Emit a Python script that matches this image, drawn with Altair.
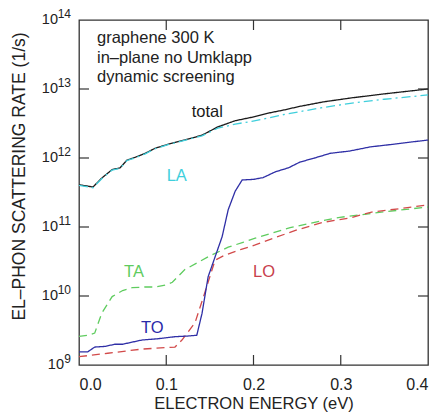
import altair as alt
import pandas as pd

FONT = "Liberation Sans"

# ---- data ----
total_E = [0.0, 0.016, 0.026, 0.038, 0.047, 0.055, 0.064, 0.076, 0.087, 0.102, 0.121, 0.141,
           0.159, 0.179, 0.198, 0.217, 0.236, 0.253, 0.28, 0.311, 0.35, 0.4]
total_rate = [4.1e11, 3.8e11, 5.1e11, 6.8e11, 7.2e11, 9.3e11, 1.02e12, 1.17e12, 1.38e12, 1.58e12,
              1.82e12, 2.14e12, 2.82e12, 3.47e12, 3.89e12, 4.47e12, 5.0e12, 5.6e12, 6.5e12,
              7.4e12, 8.5e12, 1.0e13]

la_E = total_E
la_rate = [4.0e11, 3.7e11, 5.0e11, 6.7e11, 7.1e11, 9.2e11, 1.0e12, 1.15e12, 1.36e12, 1.56e12,
           1.8e12, 2.1e12, 2.7e12, 3.1e12, 3.4e12, 3.8e12, 4.3e12, 4.7e12, 5.4e12, 6.2e12,
           7.1e12, 8.2e12]

to_E = [0.0, 0.01, 0.018, 0.03, 0.041, 0.05, 0.072, 0.09, 0.11, 0.125, 0.135, 0.141, 0.148,
        0.156, 0.164, 0.171, 0.179, 0.187, 0.2, 0.211, 0.225, 0.24, 0.253, 0.27, 0.288, 0.31,
        0.334, 0.36, 0.38, 0.4]
to_rate = [1.55e9, 1.55e9, 1.82e9, 1.86e9, 2.0e9, 2.0e9, 2.3e9, 2.4e9, 2.57e9, 2.63e9, 2.7e9,
           5.6e9, 1.9e10, 3.7e10, 7.2e10, 1.78e11, 3.3e11, 4.8e11, 4.9e11, 5.2e11, 6.3e11,
           7.2e11, 8.7e11, 1.0e12, 1.17e12, 1.26e12, 1.45e12, 1.58e12, 1.7e12, 1.82e12]

ta_E = [0.0, 0.01, 0.018, 0.026, 0.038, 0.05, 0.061, 0.075, 0.087, 0.1, 0.107, 0.121, 0.135,
        0.148, 0.171, 0.188, 0.202, 0.242, 0.27, 0.299, 0.35, 0.4]
ta_rate = [2.6e9, 2.7e9, 2.9e9, 5.6e9, 9.8e9, 1.2e10, 1.32e10, 1.35e10, 1.35e10, 1.45e10,
           1.58e10, 2.4e10, 3.0e10, 3.7e10, 5.1e10, 6.0e10, 6.9e10, 9.8e10, 1.17e11, 1.38e11,
           1.66e11, 1.95e11]

lo_E = [0.0, 0.033, 0.072, 0.11, 0.118, 0.133, 0.144, 0.156, 0.167, 0.185, 0.202, 0.223, 0.25,
        0.28, 0.31, 0.337, 0.37, 0.4]
lo_rate = [1.32e9, 1.48e9, 1.7e9, 1.82e9, 2.3e9, 4.1e9, 1.1e10, 3.3e10, 3.9e10, 4.7e10, 5.5e10,
           6.9e10, 9.1e10, 1.17e11, 1.35e11, 1.66e11, 1.86e11, 2.1e11]

series_names = ["total", "LA", "TA", "LO", "TO"]
series_colors = ["#1a1a1a", "#3fcfdc", "#5fcc5f", "#d24a4a", "#2f2fa6"]
series_dash = [[1, 0], [9, 4, 2, 4], [8, 5], [8, 5], [1, 0]]

# label anchors (energy, rate) for the curve names
label_E = [0.147, 0.112, 0.063, 0.212, 0.084]
label_rate = [3.9e12, 4.6e11, 1.9e10, 1.9e10, 2.9e9]
label_colors = ["#1a1a1a", "#3fcfdc", "#5fcc5f", "#c8404c", "#2a2aaa"]

x_ticks = [0.0, 0.1, 0.2, 0.3, 0.4]
inner_x_ticks = [0.1, 0.2, 0.3]
y_ticks = [1e9, 1e10, 1e11, 1e12, 1e13, 1e14]
y_tick_exponents = ["9", "10", "11", "12", "13", "14"]
inner_y_ticks = [1e10, 1e11, 1e12, 1e13]

info_lines = ["graphene 300 K", "in–plane no Umklapp", "dynamic screening"]

# ---- tables ----
rows = []
for name, Es, Rs in [("total", total_E, total_rate), ("LA", la_E, la_rate),
                     ("TA", ta_E, ta_rate), ("LO", lo_E, lo_rate), ("TO", to_E, to_rate)]:
    for i, (e, r) in enumerate(zip(Es, Rs)):
        rows.append({"E": e, "v": r, "s": name, "o": i})
df = pd.DataFrame(rows)
labels_df = pd.DataFrame({"E": label_E, "v": label_rate, "s": series_names, "c": label_colors})
xt_df = pd.DataFrame({"E": inner_x_ticks})
yt_df = pd.DataFrame({"v": inner_y_ticks})
ylab_df = pd.DataFrame({"v": y_ticks, "ex": y_tick_exponents,
                        "n": [len(e) for e in y_tick_exponents]})

W, H = 349, 345
xscale = alt.Scale(domain=[0, 0.4], nice=False, zero=False)
yscale = alt.Scale(type="log", domain=[1e9, 1e14], nice=False)

x_axis = alt.Axis(values=x_ticks, format=".1f", ticks=False, tickSize=0, domain=False, grid=False,
                  labelFont=FONT, labelFontSize=16, labelColor="#222", labelPadding=11,
                  title="ELECTRON ENERGY (eV)", titleFont=FONT, titleFontSize=16.5,
                  titleFontWeight="normal", titleColor="#222", titleY=43,
                  titleBaseline="alphabetic")
y_axis = alt.Axis(values=y_ticks, labels=False, ticks=False, tickSize=0, domain=False,
                  grid=False, title="EL–PHON SCATTERING RATE (1/s)", titleFont=FONT,
                  titleFontSize=17.5, titleFontWeight="normal", titleColor="#222",
                  titleAngle=270, titleX=-60, titleY=156, titleAlign="center",
                  titleBaseline="middle")

x_enc = alt.X("E:Q", scale=xscale, axis=x_axis)
y_enc = alt.Y("v:Q", scale=yscale, axis=y_axis)

lines = alt.Chart(df).mark_line(strokeWidth=1.3, clip=True).encode(
    x=x_enc,
    y=y_enc,
    color=alt.Color("s:N", scale=alt.Scale(domain=series_names, range=series_colors), legend=None),
    strokeDash=alt.StrokeDash("s:N", scale=alt.Scale(domain=series_names, range=series_dash),
                              legend=None),
    order="o:Q",
)

labels = alt.Chart(labels_df).mark_text(font=FONT, fontSize=16.5, align="center",
                                        baseline="alphabetic").encode(
    x=x_enc,
    y=y_enc,
    text="s:N",
    color=alt.Color("c:N", scale=None, legend=None),
)

info = alt.Chart(pd.DataFrame({"k": [0]})).mark_text(
    font=FONT, fontSize=16.5, align="left", baseline="alphabetic", lineHeight=19.5,
    color="#222").encode(
    x=alt.value(18), y=alt.value(23), text=alt.value(info_lines))

# y tick labels as "10" with a raised exponent
base_two = alt.Chart(ylab_df).transform_filter("datum.n == 2").mark_text(
    font=FONT, fontSize=14.5, align="right", baseline="middle", dx=-21, color="#222").encode(
    x=alt.value(0), y=y_enc, text=alt.value("10"))
base_one = alt.Chart(ylab_df).transform_filter("datum.n == 1").mark_text(
    font=FONT, fontSize=14.5, align="right", baseline="middle", dx=-15, color="#222").encode(
    x=alt.value(0), y=y_enc, text=alt.value("10"))
expo = alt.Chart(ylab_df).mark_text(
    font=FONT, fontSize=12, align="right", baseline="middle", dx=-8, dy=-6,
    color="#222").encode(
    x=alt.value(0), y=y_enc, text="ex:N")

tick_style = dict(color="#333", strokeWidth=1.2)
xt_bottom = alt.Chart(xt_df).mark_rule(**tick_style).encode(
    x=x_enc, y=alt.value(H), y2=alt.value(H - 10))
xt_top = alt.Chart(xt_df).mark_rule(**tick_style).encode(
    x=x_enc, y=alt.value(0), y2=alt.value(10))
yt_left = alt.Chart(yt_df).mark_rule(**tick_style).encode(
    y=y_enc, x=alt.value(0), x2=alt.value(10))
yt_right = alt.Chart(yt_df).mark_rule(**tick_style).encode(
    y=y_enc, x=alt.value(W - 10), x2=alt.value(W))

chart = alt.layer(lines, labels, info, base_two, base_one, expo,
                  xt_bottom, xt_top, yt_left, yt_right).properties(
    width=W, height=H,
    autosize=alt.AutoSizeParams(type="none"),
    padding={"left": 71, "top": 12, "right": 5, "bottom": 50},
    background="white",
).configure_view(stroke="#333", strokeWidth=1.3)

chart.save("out.html", embed_options={"renderer": "svg", "actions": False})
